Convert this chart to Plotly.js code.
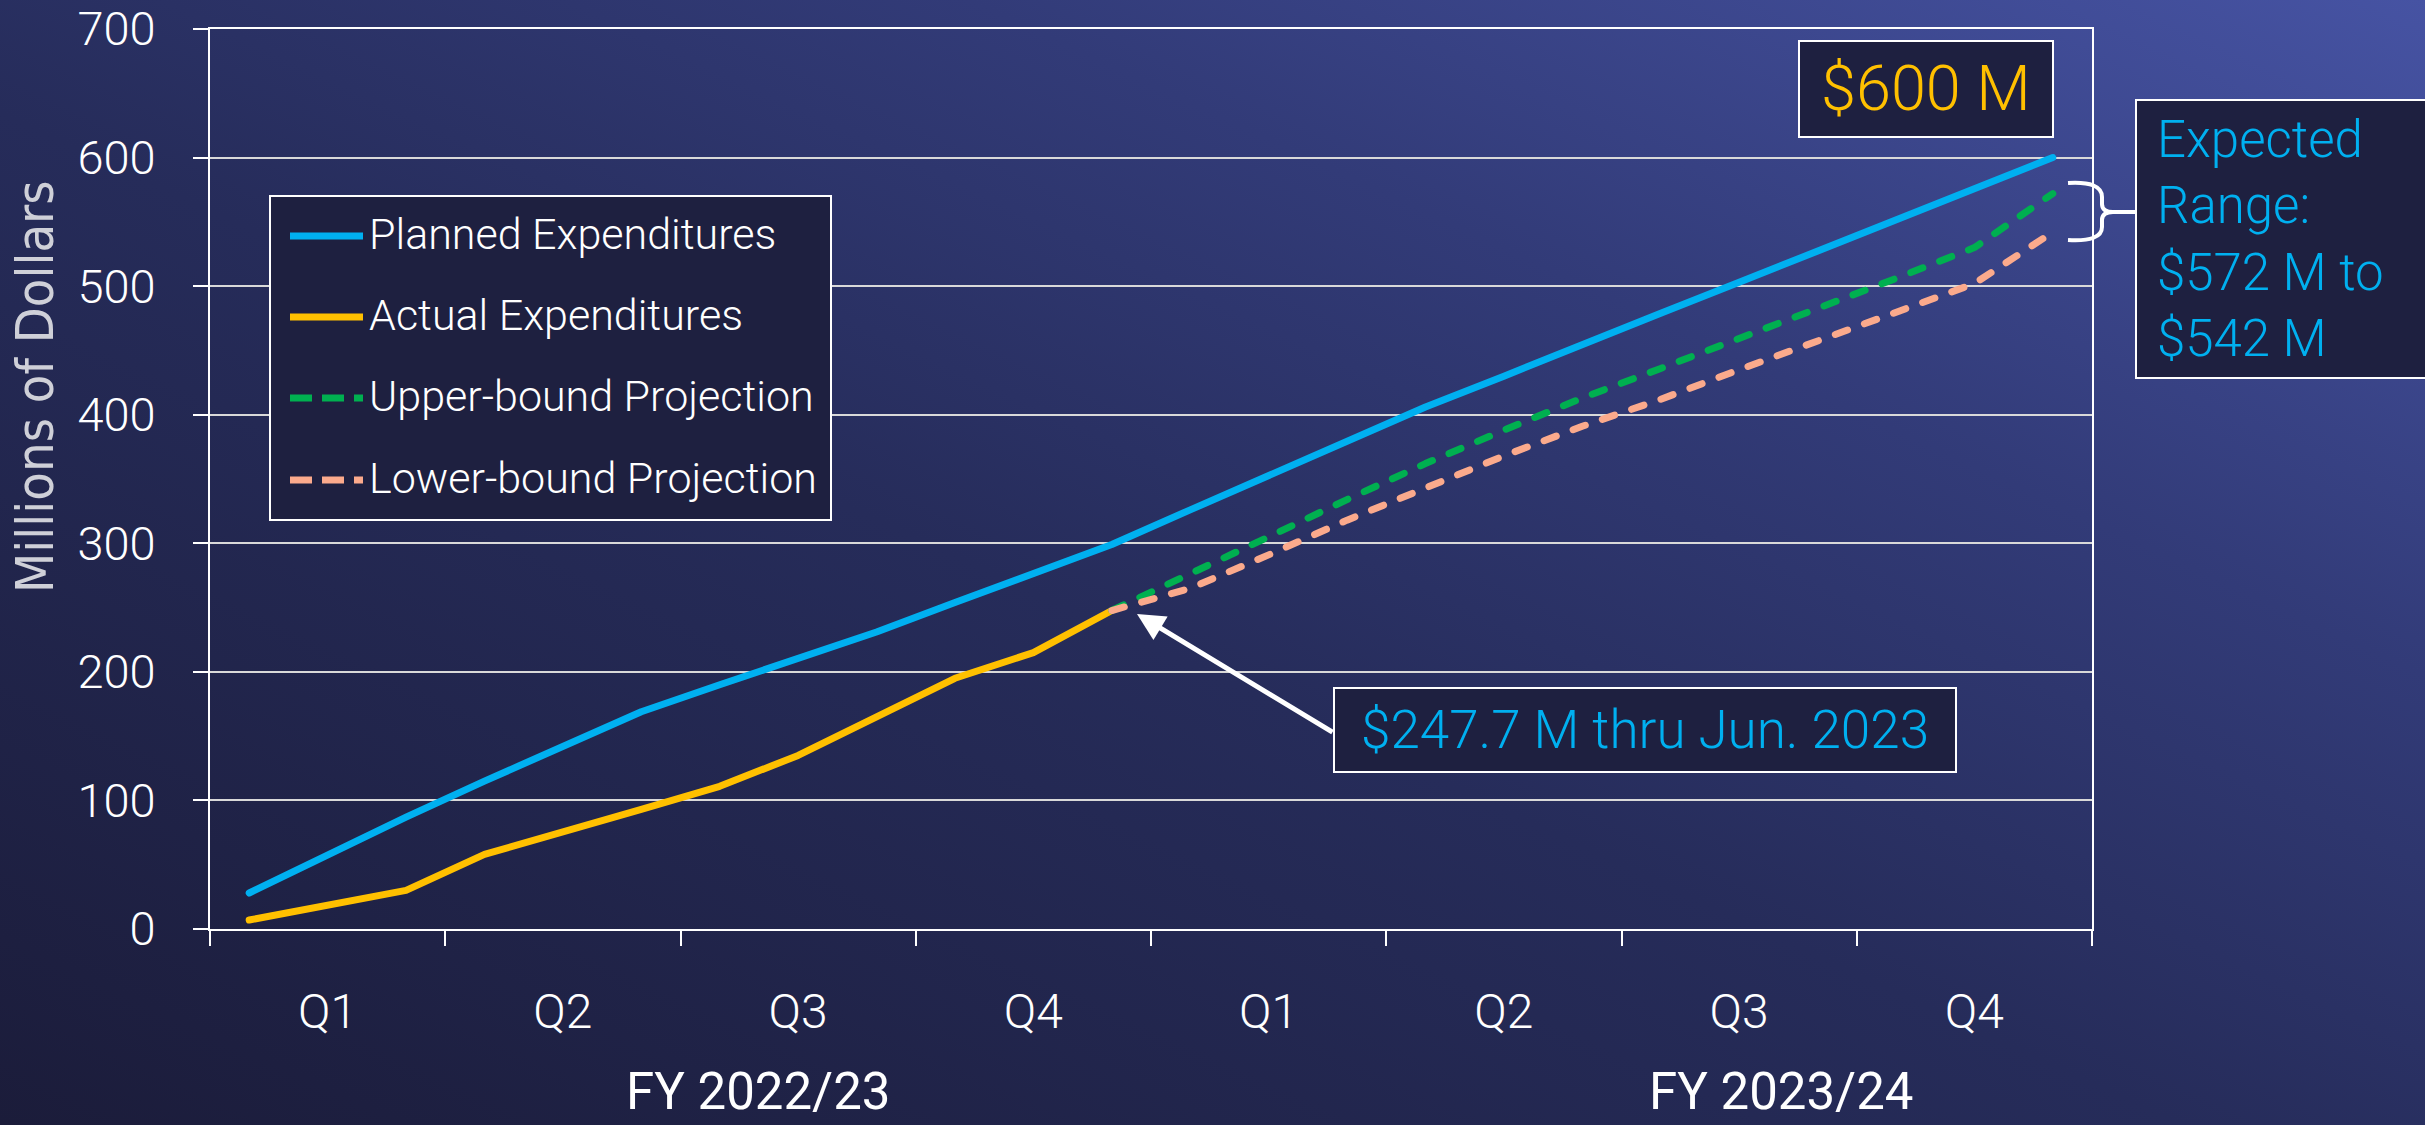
<!DOCTYPE html>
<html>
<head>
<meta charset="utf-8">
<script src="https://cdn.plot.ly/plotly-3.0.1.min.js"></script>
<style>
  html, body { margin: 0; padding: 0; }
  body {
    width: 2425px; height: 1125px; overflow: hidden;
    background: linear-gradient(to top right, #1b1c3a 0%, #262c5a 45%, #323b78 70%, #4653a3 100%);
  }
  #chart { width: 2425px; height: 1125px; }
</style>
</head>
<body>
<div id="chart"></div>
<script>
// ---------------- DATA ----------------
const months = ['Jul 2022','Aug 2022','Sep 2022','Oct 2022','Nov 2022','Dec 2022',
                'Jan 2023','Feb 2023','Mar 2023','Apr 2023','May 2023','Jun 2023',
                'Jul 2023','Aug 2023','Sep 2023','Oct 2023','Nov 2023','Dec 2023',
                'Jan 2024','Feb 2024','Mar 2024','Apr 2024','May 2024','Jun 2024'];
const planned = [28, 58, 87, 115, 142, 169, 190, 211, 231, 254, 277, 299,
                 326, 353, 380, 406, 430, 455, 479, 503, 527, 551, 576, 600];
const actual  = [7, 18, 30, 58, 75, 93, 111, 135, 165, 195, 215, 247.7];
const upperProj = [247.7, 277, 305, 334, 362, 388, 413, 436, 459, 483, 506, 530, 572];
const lowerProj = [247.7, 265, 291, 318, 343, 368, 391, 412, 435, 457, 480, 502, 542];
const quarterLabels = ['Q1','Q2','Q3','Q4','Q1','Q2','Q3','Q4'];
const fiscalYears = ['FY 2022/23', 'FY 2023/24'];
const yTicks = [0, 100, 200, 300, 400, 500, 600, 700];
const seriesNames = ['Planned Expenditures', 'Actual Expenditures', 'Upper-bound Projection', 'Lower-bound Projection'];
const labelTotal = '$600 M';
const labelRange = 'Expected<br>Range:<br>$572 M to<br>$542 M';
const labelActual = '$247.7 M thru Jun. 2023';
const yTitle = 'Millions of Dollars';

// ---------------- STYLE ----------------
const colors = ['#00b0f0', '#ffc000', '#00b050', '#fbaa8c'];
const boxFill = '#1e2040';
const monthIdx = months.map((m, i) => i);
const projIdx = monthIdx.slice(actual.length - 1);
const quarterCenters = quarterLabels.map((q, i) => 3 * i + 1);
const quarterBounds = quarterLabels.map((q, i) => 3 * i - 0.5).concat([23.5]);

// pixel -> paper helpers for decorations
const L = 210, R = 2092, T = 29, B = 929;
const PX = x => (x - L) / (R - L);
const PY = y => (B - y) / (B - T);

const traces = [
  {x: monthIdx, y: planned, name: seriesNames[0], mode: 'lines', line: {color: colors[0], width: 7}},
  {x: monthIdx.slice(0, actual.length), y: actual, name: seriesNames[1], mode: 'lines', line: {color: colors[1], width: 7}},
  {x: projIdx, y: upperProj, name: seriesNames[2], mode: 'lines', line: {color: colors[2], width: 7, dash: '13px,18px'}},
  {x: projIdx, y: lowerProj, name: seriesNames[3], mode: 'lines', line: {color: colors[3], width: 7, dash: '13px,18px'}}
];

const lightFont = (size, color) => ({family: 'Roboto, sans-serif', size: size, color: color || 'white', weight: 300});

const shapes = [];
const annotations = [];

// legend box
shapes.push({type: 'rect', xref: 'paper', yref: 'paper', x0: PX(270), x1: PX(831), y0: PY(196), y1: PY(520),
             fillcolor: boxFill, line: {color: 'white', width: 2}, layer: 'above'});
const legRows = [236, 317, 398, 480];
seriesNames.forEach((n, i) => {
  shapes.push({type: 'line', xref: 'paper', yref: 'paper', x0: PX(290), x1: PX(363), y0: PY(legRows[i]), y1: PY(legRows[i]),
               line: {color: colors[i], width: 7, dash: i < 2 ? 'solid' : '22px,10px'}, layer: 'above'});
  annotations.push({xref: 'paper', yref: 'paper', x: PX(367), y: PY(legRows[i] - 2), xanchor: 'left', yanchor: 'middle',
                    text: n, showarrow: false, font: lightFont(43)});
});

// $600 M box
shapes.push({type: 'rect', xref: 'paper', yref: 'paper', x0: PX(1799), x1: PX(2053), y0: PY(41), y1: PY(137),
             fillcolor: boxFill, line: {color: 'white', width: 2}, layer: 'above'});
annotations.push({xref: 'paper', yref: 'paper', x: PX(1926), y: PY(89), xanchor: 'center', yanchor: 'middle',
                  text: labelTotal, showarrow: false, font: lightFont(63, '#ffc000')});

// Expected range box
shapes.push({type: 'rect', xref: 'paper', yref: 'paper', x0: PX(2136), x1: PX(2450), y0: PY(100), y1: PY(378),
             fillcolor: boxFill, line: {color: 'white', width: 2}, layer: 'above'});
annotations.push({xref: 'paper', yref: 'paper', x: PX(2155), y: PY(239), xanchor: 'left', yanchor: 'middle', align: 'left',
                  text: labelRange, showarrow: false, font: lightFont(51, '#00b0f0')});

// brace
const bracePts = 'M2068,183 Q2102,181 2102,197 L2102,204 Q2102,212 2113,212 L2135,212 M2113,212 Q2102,212 2102,220 L2102,227 Q2102,242 2068,240';
const bracePath = bracePts.replace(/(\d+(?:\.\d+)?),(\d+(?:\.\d+)?)/g, (m, a, b) => PX(+a).toFixed(5) + ',' + PY(+b).toFixed(5));
shapes.push({type: 'path', xref: 'paper', yref: 'paper', path: bracePath, line: {color: 'white', width: 4}, layer: 'above'});

// $247.7 box + arrow
shapes.push({type: 'rect', xref: 'paper', yref: 'paper', x0: PX(1334), x1: PX(1956), y0: PY(688), y1: PY(772),
             fillcolor: boxFill, line: {color: 'white', width: 2}, layer: 'above'});
annotations.push({xref: 'paper', yref: 'paper', x: PX(1645), y: PY(730), xanchor: 'center', yanchor: 'middle',
                  text: labelActual, showarrow: false, font: lightFont(53, '#00b0f0')});
annotations.push({xref: 'paper', yref: 'paper', x: PX(1137), y: PY(614), text: ' ', font: {size: 1},
                  showarrow: true, ax: 197, ay: 119, arrowcolor: 'white', arrowwidth: 5, arrowhead: 2, arrowsize: 1.1, standoff: 0});

// y title
annotations.push({xref: 'paper', yref: 'paper', x: PX(35), y: PY(387), xanchor: 'center', yanchor: 'middle', textangle: -90,
                  text: yTitle, showarrow: false,
                  font: {family: '"Liberation Sans Narrow", "Arial Narrow", "DejaVu Sans Condensed", Roboto, sans-serif', size: 52, color: '#cfd0d8', weight: 400}});

// fiscal years
const fyX = [758, 1781];
fiscalYears.forEach((fy, i) => {
  annotations.push({xref: 'paper', yref: 'paper', x: PX(fyX[i]), y: PY(1091), xanchor: 'center', yanchor: 'middle',
                    text: fy, showarrow: false, font: {family: 'Roboto, sans-serif', size: 51, color: 'white', weight: 400}});
});

const layout = {
  width: 2425, height: 1125,
  margin: {l: 210, r: 333, t: 29, b: 196, pad: 0},
  paper_bgcolor: 'rgba(0,0,0,0)', plot_bgcolor: 'rgba(0,0,0,0)',
  showlegend: false,
  font: {family: 'Roboto, sans-serif', color: 'white'},
  xaxis: {
    range: [-0.5, 23.5], tickmode: 'array', tickvals: quarterCenters, ticktext: quarterLabels,
    ticks: 'outside', ticklen: 15, tickcolor: 'rgba(0,0,0,0)', tickwidth: 2,
    tickfont: lightFont(48), ticklabelstandoff: 24,
    showgrid: false, zeroline: false, showline: true, linecolor: 'white', linewidth: 2, mirror: true,
    minor: {tickmode: 'array', tickvals: quarterBounds, ticks: 'outside', ticklen: 15, tickwidth: 2, tickcolor: 'white', showgrid: false},
    fixedrange: true
  },
  yaxis: {
    range: [0, 700], tickmode: 'array', tickvals: yTicks,
    ticks: 'outside', ticklen: 15, tickwidth: 2, tickcolor: 'white',
    tickfont: lightFont(47), ticklabelstandoff: 28,
    showgrid: true, gridcolor: '#d9d9d9', gridwidth: 2,
    zeroline: false, showline: true, linecolor: 'white', linewidth: 2, mirror: true,
    fixedrange: true
  },
  shapes: shapes,
  annotations: annotations
};

Plotly.newPlot('chart', traces, layout, {displayModeBar: false, staticPlot: true}).then(() => {
  document.querySelectorAll('.scatterlayer .js-line').forEach(p => {
    p.style.strokeLinecap = 'round';
    p.style.strokeLinejoin = 'round';
  });
});
</script>
</body>
</html>
